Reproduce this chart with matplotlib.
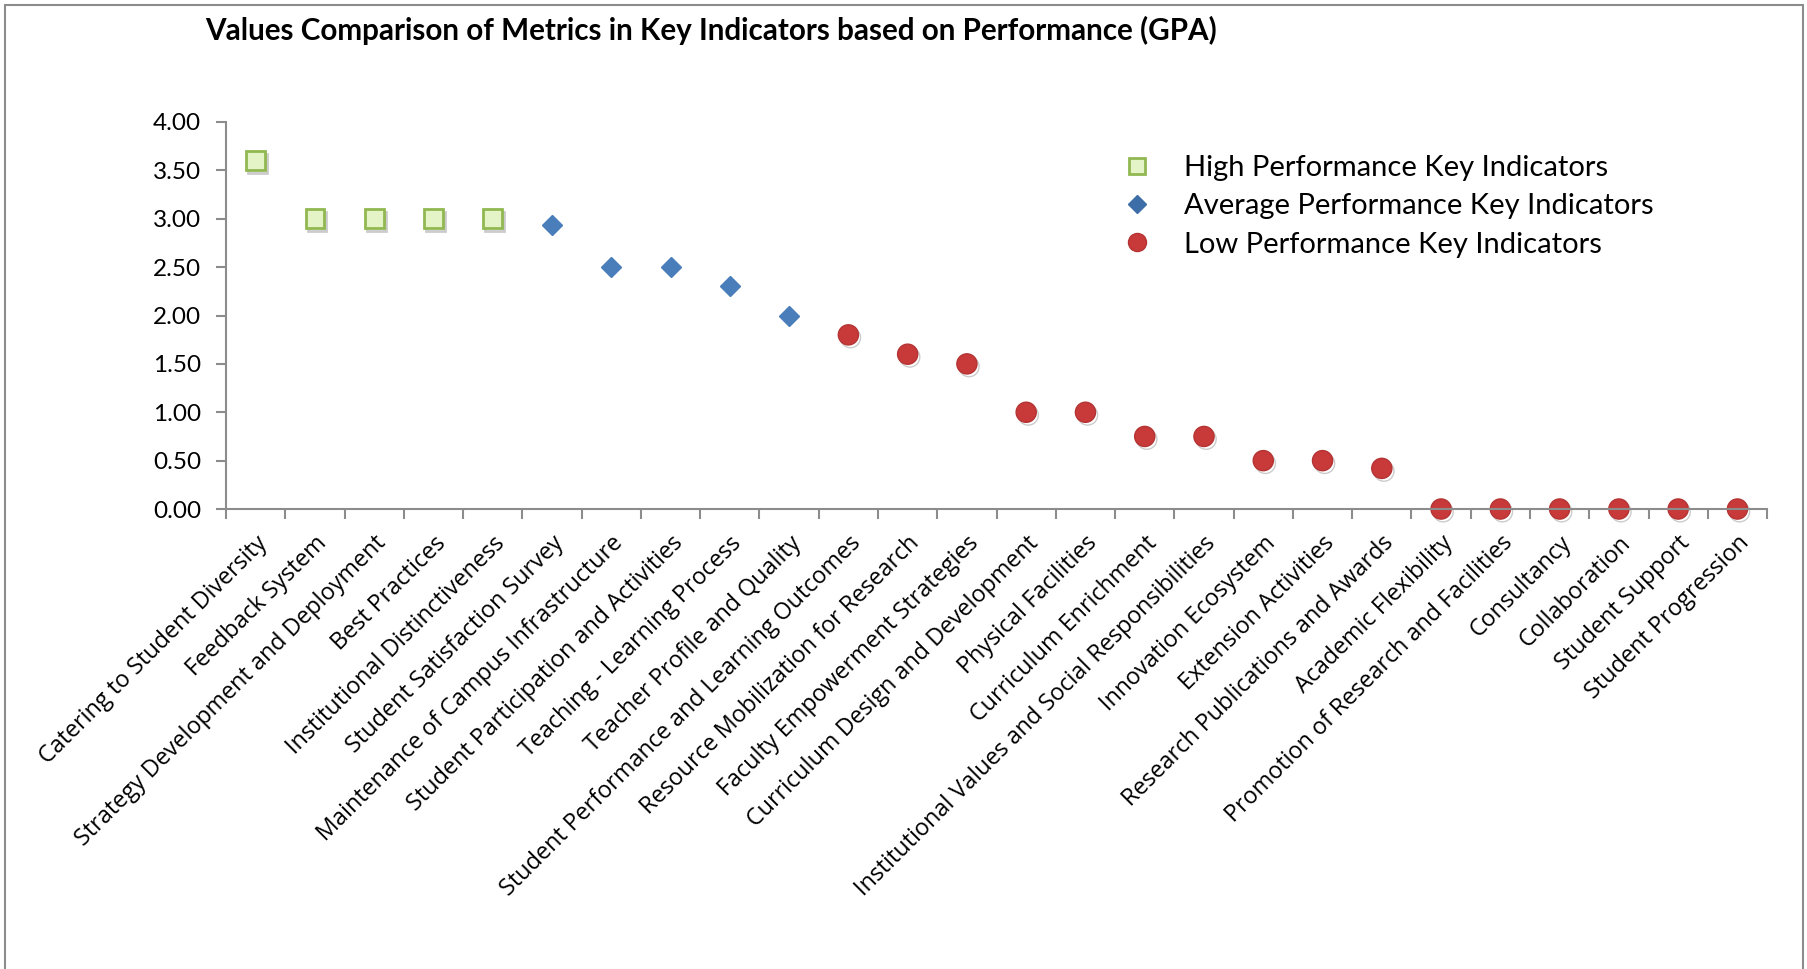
import matplotlib
matplotlib.use("Agg")
import matplotlib.pyplot as plt
from matplotlib.lines import Line2D
from matplotlib.patches import Rectangle
import matplotlib.patheffects as pe

# data
categories = [
    "Catering to Student Diversity", "Feedback System",
    "Strategy Development and Deployment", "Best Practices",
    "Institutional Distinctiveness", "Student Satisfaction Survey",
    "Maintenance of Campus Infrastructure", "Student Participation and Activities",
    "Teaching - Learning Process", "Teacher Profile and Quality",
    "Student Performance and Learning Outcomes", "Resource Mobilization for Research",
    "Faculty Empowerment Strategies", "Curriculum Design and Development",
    "Physical Facilities", "Curriculum Enrichment",
    "Institutional Values and Social Responsibilities", "Innovation Ecosystem",
    "Extension Activities", "Research Publications and Awards",
    "Academic Flexibility", "Promotion of Research and Facilities",
    "Consultancy", "Collaboration", "Student Support", "Student Progression",
]
high_vals = [3.6, 3.0, 3.0, 3.0, 3.0]
avg_vals = [2.94, 2.5, 2.5, 2.3, 2.0]
low_vals = [1.8, 1.6, 1.5, 1.0, 1.0, 0.75, 0.75, 0.5, 0.5, 0.42,
            0.0, 0.0, 0.0, 0.0, 0.0, 0.0]
series_names = ["High Performance Key Indicators",
                "Average Performance Key Indicators",
                "Low Performance Key Indicators"]

high_x = list(range(0, 5))
avg_x = list(range(5, 10))
low_x = list(range(10, 26))

fig = plt.figure(figsize=(18.07, 9.69), dpi=100)
ax = fig.add_axes([0.1251, 0.4747, 0.8528, 0.3994])

shadow = [pe.SimpleLineShadow(offset=(1.5, -2), shadow_color="#999999", alpha=0.5), pe.Normal()]

ax.plot(high_x, high_vals, ls="none", marker="s", ms=13.5, mfc="#e4f4c6",
        mec="#92b851", mew=2, clip_on=False, path_effects=shadow)
ax.plot(avg_x, avg_vals, ls="none", marker="D", ms=10, mfc="#4a7ebb",
        mec="#4a7ebb", clip_on=False)
ax.plot(low_x, low_vals, ls="none", marker="o", ms=14.5, mfc="#c83a3a",
        mec="#b53333", mew=1, clip_on=False, path_effects=shadow)

ax.set_xlim(-0.5, 25.5)
ax.set_ylim(0, 4)
ax.set_yticks([0, 0.5, 1, 1.5, 2, 2.5, 3, 3.5, 4])
ax.set_yticklabels(["%.2f" % v for v in ax.get_yticks()], fontsize=17.5, family="Lato")
ax.set_xticks(range(26))
ax.set_xticklabels(categories, rotation=45, ha="right", va="top",
                   rotation_mode="anchor", fontsize=16.8, family="Open Sans")
ax.set_xticks([k - 0.5 for k in range(27)], minor=True)
ax.tick_params(axis="x", which="major", length=0, pad=16)
ax.tick_params(axis="x", which="minor", length=7, width=1.5, color="#8c8c8c", direction="out")
ax.tick_params(axis="y", length=7, width=1.5, color="#8c8c8c", direction="out", pad=11)

for s in ["top", "right"]:
    ax.spines[s].set_visible(False)
for s in ["left", "bottom"]:
    ax.spines[s].set_color("#8c8c8c")
    ax.spines[s].set_linewidth(1.5)

fig.text(0.3935, 0.969, "Values Comparison of Metrics in Key Indicators based on Performance (GPA)",
         ha="center", va="center", fontsize=21.3, fontweight="bold", family="Lato")

handles = [
    Line2D([], [], ls="none", marker="s", ms=11, mfc="#e4f4c6", mec="#92b851", mew=2),
    Line2D([], [], ls="none", marker="D", ms=9, mfc="#3d6ea8", mec="#3d6ea8"),
    Line2D([], [], ls="none", marker="o", ms=13, mfc="#c83a3a", mec="#b53333"),
]
fig.legend(handles, series_names, loc="upper left", bbox_to_anchor=(0.605, 0.867),
           frameon=False, prop={"family": "Lato", "size": 21},
           handletextpad=1.0, labelspacing=0.42, handlelength=1.2)

# outer chart border (bottom edge is cut off in the original)
fig.patches.append(Rectangle((0.003, -0.05), 0.995, 1.045, transform=fig.transFigure,
                             fill=False, edgecolor="#8c8c8c", linewidth=1.5))

fig.savefig("out.png", dpi=100)
